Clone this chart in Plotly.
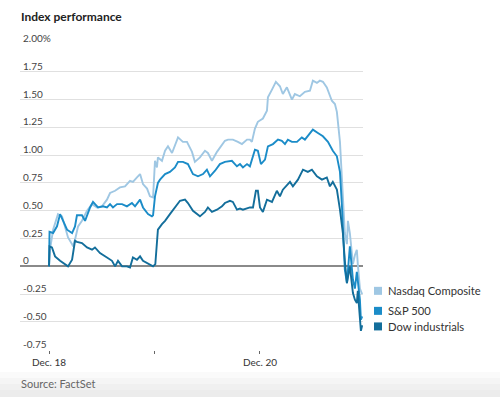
import plotly.graph_objects as go

# ---- data: trading hours elapsed since Dec. 18 open (6.5 h per session), % change ----
nasdaq_t = [0, 0.06, 0.25, 0.55, 0.8, 0.99, 1.17, 1.42, 1.48, 1.6, 1.79, 2.03, 2.34, 2.65, 2.96, 3.26,
            3.57, 3.76, 4.07, 4.37, 4.68, 4.99, 5.17, 5.42, 5.61, 5.79, 6.04, 6.22, 6.41, 6.53, 6.65,
            6.71, 6.96, 7.15, 7.33, 7.58, 7.76, 7.95, 8.25, 8.5, 8.81, 8.99, 9.3, 9.61, 9.79, 10.04,
            10.35, 10.66, 10.84, 11.03, 11.33, 11.64, 11.89, 12.2, 12.38, 12.5, 12.69, 12.87, 13.18,
            13.43, 13.49, 13.74, 13.98, 14.23, 14.41, 14.66, 14.97, 15.15, 15.46, 15.77, 16.08, 16.26,
            16.51, 16.69, 16.88, 17.12, 17.43, 17.62, 17.74, 17.93, 18.11, 18.23, 18.36, 18.42, 18.54,
            18.73, 18.85, 18.97, 19.03, 19.16, 19.3]
nasdaq_v = [0, 0.15, 0.33, 0.47, 0.45, 0.35, 0.26, 0.2, 0.18, 0.24, 0.36, 0.41, 0.5, 0.56, 0.53, 0.54,
            0.6, 0.66, 0.68, 0.71, 0.72, 0.77, 0.76, 0.8, 0.83, 0.74, 0.7, 0.63, 0.62, 0.95, 0.89,
            0.98, 0.95, 1.04, 1.08, 1.02, 1.08, 1.16, 1.12, 1.12, 1.03, 0.94, 0.98, 1.04, 1.02, 0.95,
            1.03, 1.1, 1.13, 1.14, 1.14, 1.12, 1.1, 1.14, 1.14, 1.12, 1.24, 1.3, 1.33,
            1.4, 1.52, 1.59, 1.66, 1.62, 1.55, 1.61, 1.5, 1.55, 1.53, 1.57, 1.58, 1.67,
            1.65, 1.67, 1.66, 1.61, 1.49, 1.46, 1.39, 1.12, 0.67, 0.3, 0.2, 0.41, 0.3,
            0.02, 0.1, 0.15, 0.02, -0.2, -0.25]

sp500_t = [0, 0.03, 0.25, 0.49, 0.68, 0.86, 1.11, 1.42, 1.6, 1.72, 2.03, 2.22, 2.53, 2.71, 3.02, 3.33,
           3.57, 3.76, 3.94, 4.19, 4.5, 4.8, 5.11, 5.3, 5.61, 5.79, 6.1, 6.34, 6.41, 6.53, 6.71, 6.84,
           7.15, 7.45, 7.76, 7.95, 8.25, 8.56, 8.87, 9.18, 9.49, 9.73, 9.92, 10.23, 10.53, 10.84,
           11.27, 11.58, 11.77, 11.95, 12.2, 12.38, 12.69, 12.87, 13.06, 13.31, 13.49, 13.8, 14.11,
           14.35, 14.54, 14.72, 14.97, 15.28, 15.58, 15.77, 15.95, 16.26, 16.57, 16.88, 17.19, 17.49,
           17.74, 17.93, 18.05, 18.17, 18.23, 18.36, 18.54, 18.73, 18.85, 18.97, 19.03, 19.16, 19.22, 19.3]
sp500_v = [0, 0.31, 0.3, 0.36, 0.47, 0.41, 0.33, 0.3, 0.36, 0.46, 0.46, 0.41, 0.53, 0.58, 0.53, 0.54,
           0.53, 0.56, 0.53, 0.56, 0.56, 0.54, 0.57, 0.54, 0.6, 0.53, 0.47, 0.45, 0.46, 0.63, 0.75, 0.78,
           0.83, 0.85, 0.89, 0.94, 0.94, 0.92, 0.83, 0.81, 0.83, 0.87, 0.81, 0.86, 0.92, 0.94,
           0.95, 0.9, 0.92, 0.89, 0.92, 0.9, 1.05, 1.04, 0.92, 0.96, 1.08, 1.1, 1.14,
           1.13, 1.1, 1.14, 1.12, 1.12, 1.16, 1.14, 1.17, 1.23, 1.2, 1.17, 1.12, 1.04,
           0.99, 0.85, 0.55, 0.2, -0.03, -0.15, 0.18, -0.12, -0.2, -0.05, -0.12, -0.3, -0.48, -0.45]

dow_t = [0, 0.03, 0.18, 0.37, 0.68, 0.99, 1.17, 1.42, 1.6, 1.72, 2.03, 2.34, 2.65, 2.83, 3.14, 3.57,
         3.88, 4.07, 4.25, 4.5, 4.8, 4.99, 5.17, 5.42, 5.61, 5.79, 6.04, 6.34, 6.41, 6.55, 6.71, 6.96,
         7.15, 7.45, 7.76, 8.07, 8.38, 8.56, 8.87, 9.3, 9.61, 9.79, 10.04, 10.35, 10.66, 10.84, 11.15,
         11.33, 11.58, 11.77, 11.95, 12.38, 12.57, 12.75, 12.87, 13.0, 13.18, 13.43, 13.74, 14.04,
         14.23, 14.41, 14.85, 15.03, 15.34, 15.65, 15.95, 16.2, 16.51, 16.82, 17.12, 17.31, 17.49,
         17.74, 17.93, 18.11, 18.23, 18.36, 18.54, 18.73, 18.85, 18.97, 19.03, 19.16, 19.22, 19.3]
dow_v = [0, 0.18, 0.17, 0.09, 0.05, 0.02, 0, 0.06, 0.23, 0.22, 0.21, 0.17, 0.15, 0.17, 0.12, 0.08,
         0.05, 0, 0.05, 0, 0, -0.01, 0.08, 0.06, 0.09, 0.05, 0.03, 0, 0, 0.02, 0.33, 0.38,
         0.41, 0.47, 0.53, 0.59, 0.6, 0.57, 0.5, 0.45, 0.49, 0.53, 0.49, 0.51, 0.54, 0.57, 0.59,
         0.58, 0.51, 0.52, 0.51, 0.53, 0.53, 0.68, 0.68, 0.53, 0.49, 0.6, 0.58, 0.68,
         0.63, 0.69, 0.76, 0.72, 0.78, 0.87, 0.85, 0.87, 0.81, 0.78, 0.8, 0.72, 0.76,
         0.69, 0.51, 0.3, 0.05, -0.15, 0.0, -0.24, -0.3, -0.33, -0.22, -0.43, -0.58, -0.53]

series_names = ["Nasdaq Composite", "S&P 500", "Dow industrials"]
series_colors = ["#9fc7e3", "#1b8cc8", "#136e9b"]
legend_y = [-0.22, -0.40, -0.54]

x_tickvals = [0, 6.5, 13]
x_ticktext = ["Dec. 18", "", "Dec. 20"]
y_tickvals = [2.0, 1.75, 1.5, 1.25, 1.0, 0.75, 0.5, 0.25, 0, -0.25, -0.5, -0.75]
y_ticktext = ["2.00%", "1.75", "1.50", "1.25", "1.00", "0.75", "0.50", "0.25", "0", "-0.25", "-0.50", "-0.75"]

FONT = "Lato"
W, H = 500, 397
L, R, T, B = 20, 137, 44, 47
plot_w = W - L - R
plot_h = H - T - B


def px_to_paper_x(px):
    return (px - L) / plot_w


def px_to_paper_y(py):
    return 1 - (py - T) / plot_h


fig = go.Figure()
for t, v, name, col in zip([nasdaq_t, sp500_t, dow_t], [nasdaq_v, sp500_v, dow_v],
                           series_names, series_colors):
    fig.add_trace(go.Scatter(x=t, y=v, mode="lines", name=name,
                             line=dict(color=col, width=1.9), showlegend=False,
                             hoverinfo="skip"))

annotations = []
shapes = []
# y tick labels above gridlines, inside plot at left
for val, txt in zip(y_tickvals, y_ticktext):
    annotations.append(dict(x=0, xref="paper", y=val, yref="y", text=txt, showarrow=False,
                            xanchor="left", yanchor="bottom", xshift=1, yshift=-2,
                            font=dict(family=FONT, size=10, color="#444")))

# legend (squares + labels)
for name, col, ly in zip(series_names, series_colors, legend_y):
    shapes.append(dict(type="rect", xref="paper", yref="y",
                       x0=px_to_paper_x(374), x1=px_to_paper_x(382),
                       y0=ly - 0.036, y1=ly + 0.036,
                       fillcolor=col, line=dict(width=0)))
    annotations.append(dict(x=px_to_paper_x(386), xref="paper", y=ly, yref="y", text=name,
                            showarrow=False, xanchor="left", yanchor="middle",
                            font=dict(family=FONT, size=11.2, color="#333")))

# title and source
annotations.append(dict(x=px_to_paper_x(19), xref="paper", y=px_to_paper_y(16), yref="paper",
                        text="<b>Index performance</b>", showarrow=False, xanchor="left",
                        yanchor="middle", font=dict(family=FONT, size=12, color="#222")))
annotations.append(dict(x=px_to_paper_x(19), xref="paper", y=px_to_paper_y(383), yref="paper",
                        text="Source: FactSet", showarrow=False, xanchor="left",
                        yanchor="middle", font=dict(family=FONT, size=11, color="#666")))

# subtle grey band at the bottom
band = [(372, 378, "#fafafa"), (378, 384, "#f5f5f5"), (384, 390, "#f0f0f0"), (390, 397, "#ececec")]
for y0, y1, c in band:
    shapes.append(dict(type="rect", xref="paper", yref="paper", layer="below",
                       x0=px_to_paper_x(0), x1=px_to_paper_x(W),
                       y0=px_to_paper_y(y1), y1=px_to_paper_y(y0),
                       fillcolor=c, line=dict(width=0)))

fig.update_layout(
    width=W, height=H,
    margin=dict(l=L, r=R, t=T, b=B, pad=0),
    paper_bgcolor="white", plot_bgcolor="white",
    font=dict(family=FONT, size=10, color="#333"),
    annotations=annotations, shapes=shapes,
    showlegend=False,
)
fig.update_xaxes(range=[-1.79, 19.35], tickvals=x_tickvals, ticktext=x_ticktext,
                 showgrid=False, zeroline=False, showline=False,
                 ticks="outside", ticklen=3, tickwidth=1, tickcolor="#666",
                 tickfont=dict(family=FONT, size=10, color="#333"), fixedrange=True)
fig.update_yaxes(range=[-0.752, 2.0], tickvals=y_tickvals, showticklabels=False,
                 showgrid=True, gridcolor="#e0e0e0", gridwidth=1,
                 zeroline=True, zerolinecolor="#8a8a8a", zerolinewidth=1.5,
                 showline=False, ticks="", fixedrange=True)

fig.write_html("out.html", config={"displayModeBar": False},
               post_script="document.body.style.margin='0';document.body.style.overflow='hidden';")
